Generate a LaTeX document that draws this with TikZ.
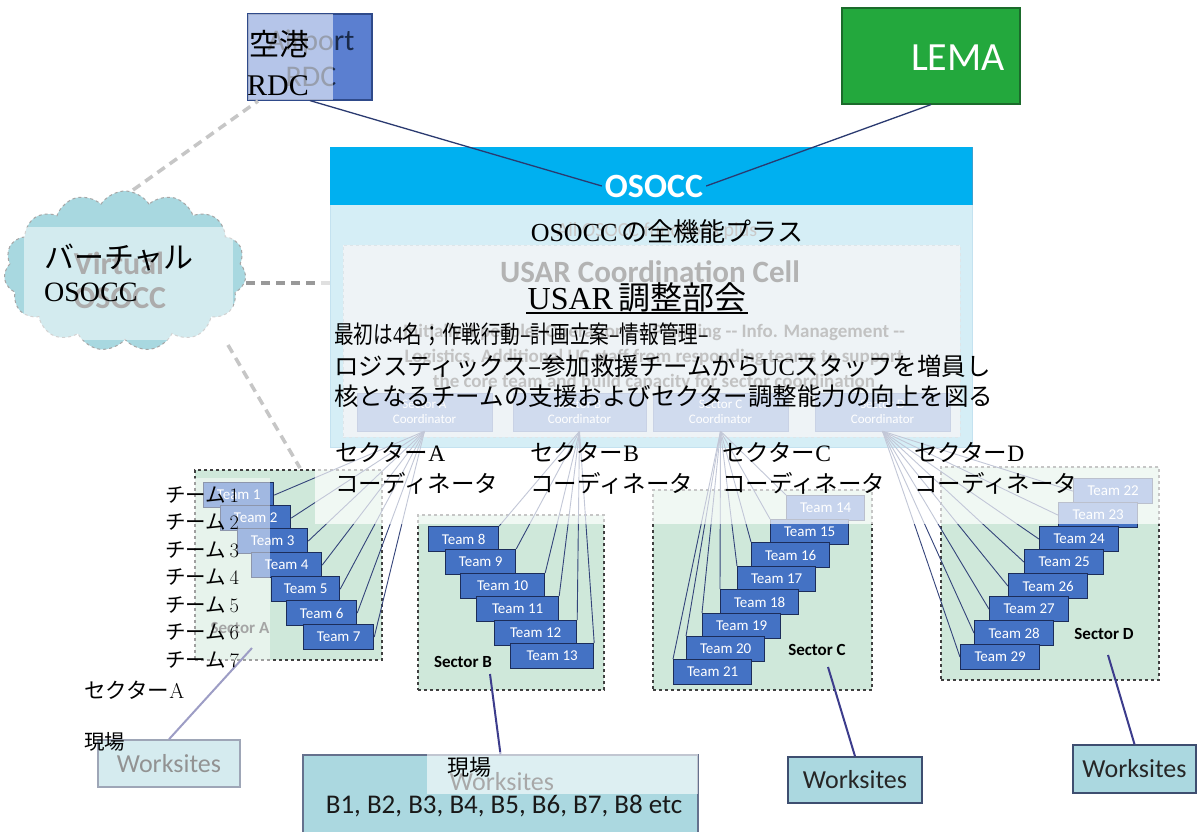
\documentclass[tikz,border=0pt]{standalone}
\usepackage{fontspec}
\usetikzlibrary{shapes.symbols}
\newfontfamily\jpf{Noto Sans CJK JP}
\newfontfamily\tmsf{Liberation Serif}
\newfontfamily\calf{Carlito}
\newcommand\fs[1]{\fontsize{#1}{#1}\selectfont}
\newcommand\J[1]{{\jpf #1}}
\newcommand\T[1]{{\tmsf #1}}
\definecolor{teamblue}{HTML}{4472C4}
\definecolor{teamedge}{HTML}{1C2D5A}
\definecolor{sectgreen}{HTML}{CFE8DA}
\definecolor{osoccblue}{HTML}{00B0F0}
\definecolor{osoccbody}{HTML}{73C6E1}
\definecolor{osoccedge}{HTML}{3AA0D0}
\definecolor{cellfill}{HTML}{C6DAE4}
\definecolor{cellline}{HTML}{90A8B8}
\definecolor{coordfill}{HTML}{6287C6}
\definecolor{coordedge}{HTML}{4A6AA8}
\definecolor{airblue}{HTML}{5B7FD0}
\definecolor{airedge}{HTML}{2F4A8A}
\definecolor{airtext}{HTML}{1A2A4A}
\definecolor{lemagreen}{HTML}{23A83D}
\definecolor{lemaedge}{HTML}{1B6B2B}
\definecolor{cloudfill}{HTML}{A8D8E0}
\definecolor{wsfill}{HTML}{ABD8E0}
\definecolor{wsedge}{HTML}{3E4E70}
\definecolor{navy}{HTML}{2A3A70}
\definecolor{wline}{HTML}{3C3C8C}
\definecolor{tline}{HTML}{34447A}
\begin{document}
\begin{tikzpicture}[x=1pt,y=-1pt,
  team/.style={draw=teamedge, fill=teamblue, line width=1.2pt, text=white, font=\calf\fs{15}, minimum height=25pt, inner sep=0pt, anchor=north west},
  sector/.style={draw=black!75, fill=sectgreen, dashed, line width=1.2pt, inner sep=0pt},
  coordbox/.style={draw=coordedge, fill=coordfill, minimum height=38pt, text=white, font=\calf\fontsize{13}{15}\selectfont, align=center, inner sep=0pt},
  slabel/.style={font=\calf\bfseries\fs{17}, text=black, inner sep=1pt},
  ws/.style={draw=wsedge, fill=wsfill, line width=1.5pt, inner sep=0pt, font=\calf\fs{26}, text=black!85},
  tln/.style={draw=tline, line width=0.9pt},
  navyln/.style={draw=navy, line width=1.3pt},
  wln/.style={draw=wline, line width=2pt},
  vdash/.style={line width=3.5pt, dash pattern=on 9pt off 6pt},
  jt/.style={text=black, inner sep=0pt, anchor=west}
]
\useasboundingbox (0,0) rectangle (1204,832);
\clip (0,0) rectangle (1204,832);
\fill[white] (0,0) rectangle (1204,832);

% ---------- OSOCC ----------
\node[draw=osoccedge, fill=osoccbody, line width=1pt, minimum width=642pt, minimum height=300pt, inner sep=0pt] (osocc) at (651,297) {};
\fill[osoccblue] (330,147) rectangle (972,205);
\node[font=\calf\bfseries\fs{34}, text=white, inner sep=3pt] (osocct) at (654,186) {OSOCC};
\node[draw=cellline, dashed, fill=cellfill, line width=1pt, minimum width=617pt, minimum height=192pt, inner sep=0pt] (cell) at (651.5,341) {};
\node[font=\calf\fs{20}, text=black!70] (allf) at (657,231) {All OSOCC functions plus};
\node[font=\calf\bfseries\fs{31}, text=black] (usarEn) at (650,272) {USAR Coordination Cell};
\node[font=\calf\bfseries\fontsize{19}{25}\selectfont, text=black!80, align=center] (desc) at (654,357) {Initially 4 people: Operations -- Planning -- Info. Management --\\Logistics. Additional UC staff from responding teams to support\\the core team and build capacity for sector coordination};
\node[coordbox, minimum width=135pt] (cA) at (424.5,412) {Sector A\\Coordinator};
\node[coordbox, minimum width=133pt] (cB) at (579.5,412) {Sector B\\Coordinator};
\node[coordbox, minimum width=135pt] (cC) at (720.5,412) {Sector C\\Coordinator};
\node[coordbox, minimum width=135pt] (cD) at (882.5,412) {Sector D\\Coordinator};

% ---------- Airport / LEMA ----------
\node[draw=airedge, fill=airblue, line width=1.2pt, minimum width=124pt, minimum height=86pt, inner sep=0pt] (air) at (310,57) {};
\node[font=\calf\fontsize{30}{36}\selectfont, text=airtext, align=center] (airt) at (311,58) {Airport\\RDC};
\node[draw=lemaedge, fill=lemagreen, line width=1.2pt, minimum width=178pt, minimum height=96pt, inner sep=0pt] (lema) at (931,56) {};
\node[font=\calf\fs{40}, text=white] (lemat) at (958,58) {LEMA};
\draw[navyln] (air.south) -- (osocct.west);
\draw[navyln] (lema.south) -- (osocct.east);

% ---------- Virtual OSOCC cloud ----------
\node[cloud, cloud puffs=15, cloud puff arc=115, aspect=1.5, draw=gray!70, dashed, fill=cloudfill, line width=1pt, minimum width=242pt, minimum height=160pt, inner sep=0pt] (cloud) at (125,271) {};
\node[font=\calf\bfseries\fontsize{32}{34}\selectfont, text=black!65, align=left] (cloudt) at (120,280) {Virtual\\OSOCC};
\coordinate (cl1) at (133,190);
\coordinate (ar1) at (258,101);
\coordinate (cl2) at (246,283);
\coordinate (os2) at (330,283);
\coordinate (cl3) at (228,345);
\coordinate (sa3) at (300,468);
\draw[vdash, draw=gray!45] (cl1) -- (ar1);
\draw[vdash, draw=gray!80] (cl2) -- (os2);
\draw[vdash, draw=gray!45] (cl3) -- (sa3);

% ---------- Sectors ----------
\node[sector, minimum width=187pt, minimum height=190pt] (sA) at (288.5,565) {};
\node[sector, minimum width=186pt, minimum height=175pt] (sB) at (511,602.5) {};
\node[sector, minimum width=219pt, minimum height=200pt] (sC) at (762.5,590) {};
\node[sector, minimum width=218pt, minimum height=213pt] (sD) at (1050,573.5) {};

% invisible team anchors for connectors
\foreach \n/\x/\y/\w in {1/203/482/70, 2/220/505/70, 3/237/528/70, 4/251/552/70, 5/271/576/68, 6/286/600/70, 7/303/624/70,
  8/428/526/70, 9/445/549/70, 10/460/573/84, 11/476/596/82, 12/494/620/82, 13/510/643/83,
  14/786/495/78, 15/770/519/78, 16/751/542/78, 17/737/566/78, 18/720/589/78, 19/702/613/78, 20/686/636/78, 21/673/659/78,
  22/1073/478/79, 23/1058/502/79, 24/1039/526/79, 25/1024/549/79, 26/1008/573/79, 27/989/596/79, 28/974/620/79, 29/960/644/79}
  \node[team, draw=none, fill=none, text opacity=0, minimum width=\w pt] (t\n) at (\x,\y) {Team \n};

\foreach \n in {1,...,7} \draw[tln] (cA.south) -- (t\n.east);
\foreach \n in {8,...,13} \draw[tln] (cB.south) -- (t\n.north east);
\foreach \n in {14,...,21} \draw[tln] (cC.south) -- (t\n.north west);
\foreach \n in {22,...,29} \draw[tln] (cD.south) -- (t\n.west);

\foreach \n/\x/\y/\w in {1/203/482/70, 2/220/505/70, 3/237/528/70, 4/251/552/70, 5/271/576/68, 6/286/600/70, 7/303/624/70,
  8/428/526/70, 9/445/549/70, 10/460/573/84, 11/476/596/82, 12/494/620/82, 13/510/643/83,
  14/786/495/78, 15/770/519/78, 16/751/542/78, 17/737/566/78, 18/720/589/78, 19/702/613/78, 20/686/636/78, 21/673/659/78,
  22/1073/478/79, 23/1058/502/79, 24/1039/526/79, 25/1024/549/79, 26/1008/573/79, 27/989/596/79, 28/974/620/79, 29/960/644/79}
  \node[team, minimum width=\w pt] (tb\n) at (\x,\y) {Team \n};

\node[slabel, text=black!70] (lA) at (240,628) {Sector A};
\node[slabel] (lB) at (463,662) {Sector B};
\node[slabel] (lC) at (817,650) {Sector C};
\node[slabel] (lD) at (1104,634) {Sector D};

% ---------- Worksites ----------
\node[ws, minimum width=142pt, minimum height=47pt] (wA) at (169,763.5) {Worksites};
\node[ws, draw=wsedge!80, minimum width=395pt, minimum height=90pt] (wB) at (500.5,800) {};
\node[font=\calf\fs{26}, text=black!85] (wBt) at (502,782) {Worksites};
\node[font=\calf\fs{27}, text=black!90] (wBl) at (504,806) {B1, B2, B3, B4, B5, B6, B7, B8 etc};
\node[ws, minimum width=134pt, minimum height=46pt] (wC) at (855,780) {Worksites};
\node[ws, minimum width=123pt, minimum height=48pt] (wD) at (1134.5,769) {Worksites};
\coordinate (pA) at (252,648);
\coordinate (pB) at (490,674);
\coordinate (pC) at (828,667);
\coordinate (pD) at (1108,655);
\draw[wln] (pA) -- (wA.north);
\draw[wln] (pB) -- (wB.north);
\draw[wln] (pC) -- (wC.north);
\draw[wln] (pD) -- (wD.north);

% ---------- translation overlays ----------
\fill[white, opacity=0.55] (248,14) rectangle (333,100);
\fill[white, opacity=0.5] (24,227) rectangle (233,340);
\fill[white, opacity=0.7] (315,205) rectangle (1160,524);
\fill[white, opacity=0.5] (80,478) rectangle (270,792);
\fill[white, opacity=0.6] (427,752) rectangle (698,794);

% ---------- Japanese text ----------
\node[jt, font=\jpf\fs{30}] (jair1) at (249,44) {空港};
\node[jt, font=\tmsf\fs{30}] (jair2) at (247,86) {RDC};
\node[jt, font=\jpf\fs{30}] (jcl1) at (44,258) {バーチャル};
\node[jt, font=\tmsf\fs{28}] (jcl2) at (44,292) {OSOCC};
\node[jt, anchor=center, font=\fs{26}] (jall) at (667,232) {\T{OSOCC}\,\J{の全機能プラス}};
\node[jt, anchor=center, font=\fs{32}, inner sep=1pt] (jusar) at (637,297) {\T{USAR}\,\J{調整部会}};
\draw[line width=1.5pt] (jusar.south west) -- (jusar.south east);
\node[jt, font=\fs{24.5}] (jl1) at (334,334) {\scalebox{0.8}[1]{\J{最初は}\T{4}\J{名；作戦行動–計画立案–情報管理–}}};
\node[jt, font=\fs{24.5}] (jl2) at (334,366) {\J{ロジスティックス–参加救援チームから}\T{UC}\J{スタッフを増員し}};
\node[jt, font=\fs{24.5}] (jl3) at (334,396) {\J{核となるチームの支援およびセクター調整能力の向上を図る}};
\foreach \s/\x in {A/335, B/530, C/722, D/914} {
  \node[jt, font=\fs{23.5}] (jc\s1) at (\x,452) {\J{セクター}\T{\s}};
  \node[jt, font=\fs{23.5}] (jc\s2) at (\x,483) {\J{コーディネータ}};
}
\foreach \k in {1,...,7}
  \node[jt, font=\fs{20.5}] (jt\k) at (165,{495+27.5*(\k-1)}) {\J{チーム}\,\k};
\node[jt, font=\fs{21.5}] (jsA) at (84,690) {\J{セクター}A};
\node[jt, font=\jpf\fs{20.5}] (jgA) at (84,742) {現場};
\node[jt, font=\jpf\fs{22}] (jgB) at (447,767) {現場};
\end{tikzpicture}
\end{document}
